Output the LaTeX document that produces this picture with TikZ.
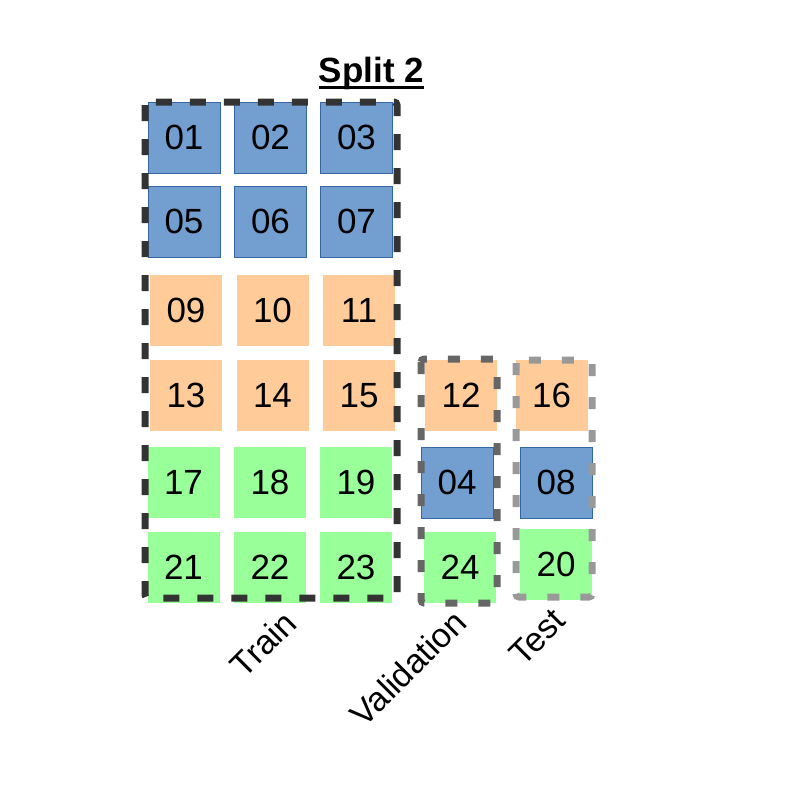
\documentclass[tikz,border=0pt]{standalone}
\usepackage{fontspec}
\setmainfont{Liberation Sans}
\definecolor{cblue}{HTML}{729FCF}
\definecolor{cblueb}{HTML}{3465A4}
\definecolor{corange}{HTML}{FFCC99}
\definecolor{cgreen}{HTML}{99FF99}
\definecolor{dtrain}{HTML}{333333}
\definecolor{dval}{HTML}{666666}
\definecolor{dtest}{HTML}{999999}
\tikzset{
  cell/.style={minimum width=72pt, minimum height=71pt, inner sep=0pt, font=\fontsize{35}{42}\selectfont},
  bluecell/.style={cell, fill=cblue, draw=cblueb, line width=0.8pt},
  orangecell/.style={cell, fill=corange},
  greencell/.style={cell, fill=cgreen},
  group/.style={line width=7pt, rounded corners=3pt, dash pattern=on 16pt off 18pt},
  lab/.style={rotate=45, inner sep=0pt, font=\fontsize{34}{40}\selectfont},
}
\begin{document}
\begin{tikzpicture}[x=1pt, y=-1pt]
\useasboundingbox (0,0) rectangle (800,800);
% title
\node[inner sep=0pt, anchor=base, font=\bfseries\fontsize{35}{42}\selectfont] (title) at (371.5,82) {Split 2};
\draw[line width=2.5pt] ([yshift=-5.5pt]title.base west) -- ([yshift=-5.5pt]title.base east);
% train cells
\node[bluecell] (n01) at (184,137.5) {01};
\node[bluecell] (n02) at (270.5,137.5) {02};
\node[bluecell] (n03) at (356.5,137.5) {03};
\node[bluecell] (n05) at (184,221.5) {05};
\node[bluecell] (n06) at (270.5,221.5) {06};
\node[bluecell] (n07) at (356.5,221.5) {07};
\node[orangecell] (n09) at (186,310.5) {09};
\node[orangecell] (n10) at (272.5,310.5) {10};
\node[orangecell] (n11) at (359,310.5) {11};
\node[orangecell] (n13) at (186,395.5) {13};
\node[orangecell] (n14) at (272.5,395.5) {14};
\node[orangecell] (n15) at (359,395.5) {15};
\node[greencell] (n17) at (183.5,482.5) {17};
\node[greencell] (n18) at (270,482.5) {18};
\node[greencell] (n19) at (356,482.5) {19};
\node[greencell] (n21) at (183.5,567.5) {21};
\node[greencell] (n22) at (270,567.5) {22};
\node[greencell] (n23) at (356,567.5) {23};
% validation cells
\node[orangecell] (n12) at (461,395.5) {12};
\node[bluecell] (n04) at (457,482.5) {04};
\node[greencell] (n24) at (460,567) {24};
% test cells
\node[orangecell] (n16) at (551.5,395.5) {16};
\node[bluecell] (n08) at (556,482.5) {08};
\node[greencell] (n20) at (556,564) {20};
% group boxes
\draw[group, draw=dtrain] (145,102) rectangle (397,598);
\draw[group, draw=dval, dash pattern=on 12pt off 21pt] (421,359) rectangle (497,603);
\draw[group, draw=dtest, dash pattern=on 12pt off 21pt] (516,360) rectangle (592,597);
% labels
\node[lab] (ltrain) at (263,644) {Train};
\node[lab] (lval) at (408,668) {Validation};
\node[lab] (ltest) at (537,637) {Test};
\end{tikzpicture}
\end{document}
